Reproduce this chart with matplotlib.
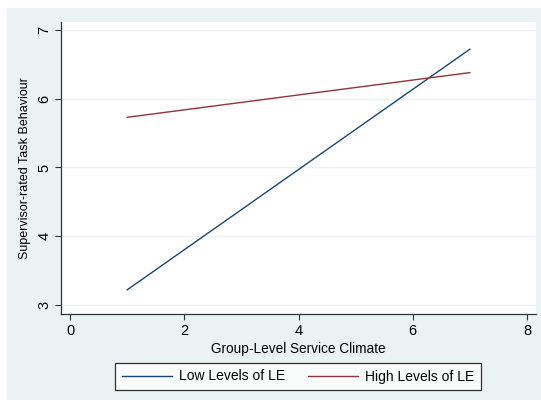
import matplotlib.pyplot as plt
from matplotlib.patches import Rectangle

X_VALUES = [1, 7]
LOW_LE = [3.22, 6.72]
HIGH_LE = [5.73, 6.38]
X_TICKS = [0, 2, 4, 6, 8]
Y_TICKS = [3, 4, 5, 6, 7]

NAVY = "#1a476f"
MAROON = "#90353b"
PANEL = "#eaf2f3"

plt.rcParams["font.family"] = ["Liberation Sans", "DejaVu Sans"]

W, H = 541, 400
fig = plt.figure(figsize=(W / 100, H / 100), dpi=100)
fig.patch.set_facecolor("white")
fig.patches.append(Rectangle((7 / W, 0), 1, 1 - 8 / H, transform=fig.transFigure,
                             facecolor=PANEL, edgecolor="none", zorder=-10))

left, right, top, bottom = 61, 536, 22, 314
ax = fig.add_axes([left / W, 1 - bottom / H, (right - left) / W, (bottom - top) / H])
ax.set_facecolor("white")

ax.plot(X_VALUES, LOW_LE, color=NAVY, lw=1.0, label="Low Levels of LE")
ax.plot(X_VALUES, HIGH_LE, color=MAROON, lw=1.0, label="High Levels of LE")

ax.set_xlim(-0.158, 8.158)
ax.set_ylim(2.869, 7.116)
ax.set_xticks(X_TICKS)
ax.set_yticks(Y_TICKS)
ax.grid(axis="y", color="#eaf2f3", lw=1.0)
ax.set_axisbelow(True)
for side in ["top", "right"]:
    ax.spines[side].set_visible(False)
for side in ["left", "bottom"]:
    ax.spines[side].set_color("#333333")
    ax.spines[side].set_linewidth(0.9)

ax.tick_params(axis="both", length=4, width=0.8, color="#333333", labelsize=10.5, pad=3)
for lab in ax.get_yticklabels():
    lab.set_rotation(90)
    lab.set_va("center")
ax.set_xlabel("Group-Level Service Climate", fontsize=9.8, labelpad=3)
ax.set_ylabel("Supervisor-rated Task Behaviour", fontsize=9)
ax.yaxis.set_label_coords(-30 / (right - left), 0.5)

leg = fig.legend(loc="center", bbox_to_anchor=(298 / W, 1 - 376.5 / H), ncol=2,
                 frameon=True, fancybox=False, edgecolor="black", fontsize=10,
                 handlelength=3.6, columnspacing=1.7, borderpad=0.45,
                 handletextpad=0.5, borderaxespad=0)
leg.get_frame().set_linewidth(0.9)

fig.savefig("out.png", dpi=100, facecolor=fig.get_facecolor())
